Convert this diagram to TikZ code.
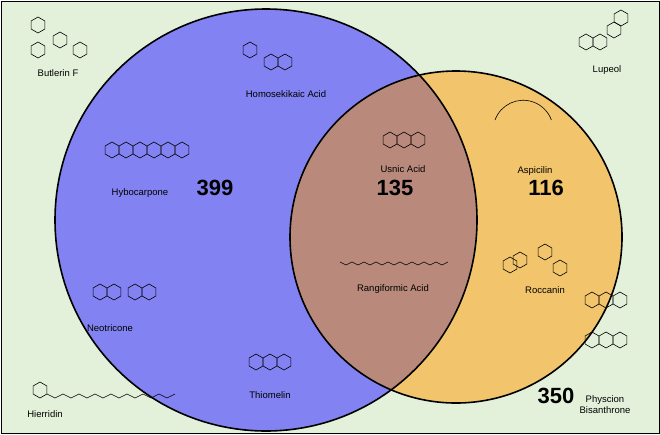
\documentclass[tikz,border=0pt]{standalone}
\usepackage{fontspec}
\setmainfont{Liberation Sans}
\usetikzlibrary{positioning}
\definecolor{bggreen}{HTML}{E3F1DA}
\definecolor{setblue}{HTML}{8282F2}
\definecolor{setorange}{HTML}{F2C56C}
\definecolor{setboth}{HTML}{B98A7C}
\tikzset{
  mol/.style={line width=0.6pt, black},
  molname/.style={font=\fontsize{9.5}{11}\selectfont, align=center},
  count/.style={font=\bfseries\fontsize{22}{26}\selectfont},
}
% a small six-membered ring at (x,y)
\newcommand\hexring[2]{\draw[mol] (#1,#2) +(30:8) -- +(90:8) -- +(150:8) -- +(210:8) -- +(270:8) -- +(330:8) -- cycle;}
\begin{document}
\begin{tikzpicture}[x=1pt,y=-1pt]
  \useasboundingbox (0,0) rectangle (660,434);
  \draw[fill=bggreen, line width=1pt] (1,1) rectangle (659,433);
  % sets
  \coordinate (cb) at (266,220);
  \coordinate (co) at (456,237);
  \fill[setblue] (cb) circle (211);
  \fill[setorange] (co) circle (166);
  \begin{scope}
    \clip (cb) circle (211);
    \fill[setboth] (co) circle (166);
  \end{scope}
  \draw[line width=1.6pt] (cb) circle (211);
  \draw[line width=1.6pt] (co) circle (166);
  % counts
  \node[count] (n399) at (215,188) {399};
  \node[count] (n135) at (395,188) {135};
  \node[count] (n116) at (546,188) {116};
  \node[count] (n350) at (556,396) {350};
  % rough structures
  \foreach \x/\y in {38/25,60/40,38/50,80/50} {\hexring{\x}{\y}}
  \foreach \x/\y in {250/50,271/62,285/62} {\hexring{\x}{\y}}
  \foreach \x/\y in {112/150,126/150,140/150,154/150,168/150,182/150} {\hexring{\x}{\y}}
  \foreach \x/\y in {390/140,404/140,418/140} {\hexring{\x}{\y}}
  \foreach \x/\y in {100/292,114/292,135/292,149/292} {\hexring{\x}{\y}}
  \foreach \x/\y in {256/362,270/362,284/362} {\hexring{\x}{\y}}
  \foreach \x/\y in {586/42,600/42,614/30,621/18} {\hexring{\x}{\y}}
  \foreach \x/\y in {520/260,545/252,560/268,510/265} {\hexring{\x}{\y}}
  \foreach \x/\y in {592/300,606/300,620/300,592/340,606/340,620/340} {\hexring{\x}{\y}}
  \hexring{40}{390}
  \draw[mol] (47,394) \foreach \i in {1,...,16} {-- ({47+8*\i},{394+4*mod(\i,2)})};
  \draw[mol] (340,262) \foreach \i in {1,...,18} {-- ({340+6*\i},{262+3*mod(\i,2)})};
  \draw[mol] (495,120) arc (200:340:30);
  % names
  \node[molname] (butlerin) at (58,73) {Butlerin F};
  \node[molname] (homosek) at (286,94) {Homosekikaic Acid};
  \node[molname] (lupeol) at (607,70) {Lupeol};
  \node[molname] (hybo) at (140,193) {Hybocarpone};
  \node[molname] (usnic) at (403,169) {Usnic Acid};
  \node[molname] (aspic) at (535,171) {Aspicilin};
  \node[molname] (rangi) at (393,289) {Rangiformic Acid};
  \node[molname] (rocca) at (545,290) {Roccanin};
  \node[molname] (neot) at (110,328) {Neotricone};
  \node[molname] (thiom) at (270,395) {Thiomelin};
  \node[molname] (hierr) at (45,414) {Hierridin};
  \node[molname] (physc) at (605,405) {Physcion\\Bisanthrone};
\end{tikzpicture}
\end{document}
